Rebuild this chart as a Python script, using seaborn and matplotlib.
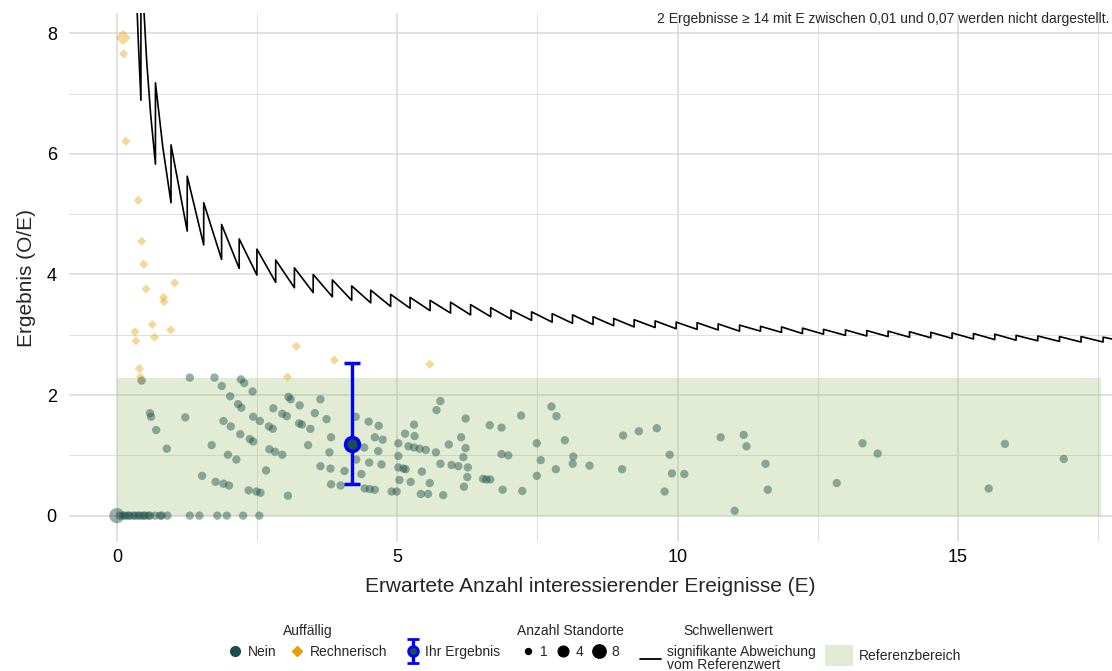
import numpy as np
import pandas as pd
import seaborn as sns
import matplotlib
matplotlib.use("Agg")
import matplotlib.pyplot as plt
from matplotlib.lines import Line2D
from matplotlib.patches import Patch
from matplotlib.legend_handler import HandlerErrorbar

# ---- data ----
# Auffaellig = Nein (circles)
nein_E = [0.0, 0.05, 0.11, 0.15, 0.20, 0.23, 0.29, 0.33, 0.38, 0.42, 0.47, 0.50, 0.56, 0.59,
          0.68, 0.77, 0.80, 0.90, 1.30, 1.47, 1.79, 1.96, 2.25, 2.54,
          0.44, 1.30, 1.74, 1.87, 2.02, 2.21, 2.27, 2.42, 0.59, 0.61, 0.70, 0.89, 1.22, 1.90,
          2.03, 2.16, 2.22, 2.43, 2.55, 2.20, 2.37, 2.43, 1.69, 1.98, 2.13, 1.52, 1.76, 1.90,
          2.00, 2.35, 2.49, 2.56, 2.66, 2.72, 2.82, 2.95, 3.05, 2.79, 2.95, 3.03, 3.06, 3.10,
          3.26, 3.63, 3.53, 3.74, 2.71, 2.78, 3.25, 3.30, 3.45, 3.41, 3.82, 3.79, 3.63, 3.81,
          4.06, 3.82, 3.99, 4.26, 4.27,
          4.49, 4.67, 4.60, 4.74, 4.41, 4.66, 4.50, 4.72, 4.36, 4.42, 4.51, 4.60, 4.90, 4.99,
          5.02, 5.14, 5.30, 5.31, 5.20, 5.30, 5.40, 5.51, 5.02, 5.02, 5.11, 5.15, 5.04, 5.24,
          5.44, 5.58, 5.42, 5.55, 5.82, 5.77, 5.70, 5.69, 5.77, 5.92, 5.97, 6.09, 6.14, 6.22,
          6.22, 6.18, 6.26, 6.25, 6.19, 6.53, 6.59, 6.66, 6.65, 6.86, 6.86, 6.98, 6.88, 7.21,
          7.23, 7.49, 7.56, 7.49, 7.75, 7.84, 7.99, 7.83, 8.14, 8.13, 8.43,
          9.03, 9.31, 9.63, 9.01, 9.86, 9.90, 10.12, 9.77, 10.77, 11.18, 11.23, 11.57, 11.61,
          11.02, 12.84, 13.30, 13.57, 15.84, 15.55, 16.89]
nein_OE = [0.0] * 24 + [
          2.24, 2.29, 2.29, 2.15, 1.98, 2.26, 2.20, 2.06, 1.70, 1.64, 1.42, 1.11, 1.63, 1.57,
          1.48, 1.85, 1.79, 1.64, 1.57, 1.35, 1.27, 1.23, 1.17, 1.01, 0.93, 0.66, 0.56, 0.53,
          0.50, 0.42, 0.40, 0.38, 0.75, 1.10, 1.06, 1.01, 0.33, 1.78, 1.69, 1.65, 1.97, 1.93,
          1.83, 1.93, 1.70, 1.60, 1.48, 1.44, 1.53, 1.51, 1.44, 1.17, 1.30, 1.05, 0.82, 0.78,
          0.74, 0.52, 0.50, 1.64, 0.93,
          1.56, 1.49, 1.30, 1.26, 1.13, 1.07, 0.88, 0.85, 0.69, 0.45, 0.44, 0.43, 0.40, 0.40,
          1.20, 1.36, 1.51, 1.32, 1.15, 1.13, 1.11, 1.09, 0.99, 0.80, 0.78, 0.77, 0.59, 0.56,
          0.73, 0.54, 0.36, 0.36, 0.34, 1.90, 1.75, 1.05, 0.86, 1.18, 0.84, 0.82, 1.30, 1.61,
          1.12, 0.97, 0.80, 0.64, 0.48, 0.61, 0.60, 0.60, 1.50, 1.46, 1.02, 1.00, 0.43, 1.66,
          0.41, 1.20, 0.92, 0.66, 1.81, 1.65, 1.25, 0.77, 0.98, 0.86, 0.83,
          1.33, 1.40, 1.45, 0.77, 1.01, 0.70, 0.69, 0.40, 1.30, 1.34, 1.15, 0.86, 0.43,
          0.08, 0.54, 1.20, 1.03, 1.19, 0.45, 0.94]
nein_n = [8] + [1] * (len(nein_E) - 1)

# Auffaellig = Rechnerisch (diamonds)
rech_E = [0.11, 0.12, 0.16, 0.38, 0.44, 0.48, 0.52, 1.03, 0.83, 0.84, 0.63, 0.32, 0.34,
          0.67, 0.96, 0.40, 0.42, 3.20, 3.04, 3.88, 5.58]
rech_OE = [7.93, 7.66, 6.21, 5.23, 4.55, 4.17, 3.76, 3.86, 3.62, 3.55, 3.17, 3.05, 2.90,
           2.96, 3.08, 2.44, 2.30, 2.81, 2.30, 2.58, 2.51]
rech_n = [2] + [1] * (len(rech_E) - 1)

# own result
own_E, own_OE, own_lo, own_hi = 4.19, 1.19, 0.52, 2.53

# threshold line (sawtooth): jump positions, value just before and just after each jump
thr_start = (0.33, 9.1)
thr_jump_E = [0.428, 0.687, 0.965, 1.254, 1.548, 1.867, 2.181, 2.497, 2.832, 3.166, 3.501,
              3.843, 4.188, 4.527, 4.883, 5.229, 5.586, 5.951, 6.308, 6.667, 7.030, 7.396,
              7.764, 8.127, 8.493, 8.861, 9.226, 9.600, 9.975, 10.349, 10.724, 11.106,
              11.480, 11.855, 12.229, 12.604, 12.996, 13.376, 13.756, 14.138, 14.518,
              14.897, 15.279, 15.659, 16.039, 16.426, 16.813, 17.198, 17.591]
thr_low = [6.89, 5.83, 5.19, 4.72, 4.49, 4.25, 4.10, 3.99, 3.87, 3.78, 3.70, 3.63, 3.57,
           3.53, 3.47, 3.44, 3.40, 3.36, 3.33, 3.30, 3.26, 3.24, 3.21, 3.19, 3.17, 3.15,
           3.13, 3.12, 3.10, 3.09, 3.08, 3.06, 3.06, 3.04, 3.02, 3.01, 2.99, 2.98, 2.97,
           2.96, 2.95, 2.94, 2.93, 2.92, 2.91, 2.90, 2.89, 2.88, 2.88]
thr_high = [9.30, 7.18, 6.15, 5.63, 5.19, 4.83, 4.59, 4.42, 4.24, 4.11, 4.00, 3.91, 3.81,
            3.74, 3.67, 3.62, 3.57, 3.54, 3.50, 3.45, 3.41, 3.38, 3.35, 3.33, 3.30, 3.27,
            3.25, 3.23, 3.21, 3.20, 3.18, 3.16, 3.14, 3.13, 3.11, 3.09, 3.08, 3.07, 3.06,
            3.05, 3.04, 3.03, 3.02, 3.01, 2.99, 2.98, 2.97, 2.97, 2.96]
thr_end = (17.75, 2.93)
# extra points where the first teeth bend
thr_bend_E = [0.38, 0.53, 0.60, 0.82]
thr_bend_y = [7.90, 7.55, 6.67, 6.10]

# reference range
ref_E = [0.0, 17.56]
ref_OE = [0.0, 2.29]

note = "2 Ergebnisse \u2265 14 mit E zwischen 0,01 und 0,07 werden nicht dargestellt."

# ---- styling ----
col_nein = "#1b4f4a"
col_rech = "#e69f00"
col_ref = "#9fc06e"
col_grid = "#d9d9d9"

sns.set_theme(style="white")
plt.rcParams["font.family"] = ["Liberation Sans", "DejaVu Sans"]

fig = plt.figure(figsize=(11.12, 6.71), dpi=100)
ax = fig.add_axes([0.0623, 0.192, 0.9377, 0.788])

nein = pd.DataFrame({"E": nein_E, "OE": nein_OE, "n": nein_n})
rech = pd.DataFrame({"E": rech_E, "OE": rech_OE, "n": rech_n})

# threshold polyline
tx = [thr_start[0]]
ty = [thr_start[1]]
for e, lo, hi in zip(thr_jump_E, thr_low, thr_high):
    tx += [e, e]
    ty += [lo, hi]
tx += [thr_end[0]] + thr_bend_E
ty += [thr_end[1]] + thr_bend_y
order = np.argsort(tx, kind="mergesort")
thr = pd.DataFrame({"E": np.array(tx)[order], "OE": np.array(ty)[order]})

ax.fill_between(ref_E, ref_OE[0], ref_OE[1], color=col_ref, alpha=0.3, lw=0, zorder=1)

sns.lineplot(data=thr, x="E", y="OE", sort=False, estimator=None, color="black",
             lw=1.2, ax=ax, zorder=3)
sns.scatterplot(data=nein, x="E", y="OE", size="n", sizes={1: 36, 8: 120}, color=col_nein,
                alpha=0.45, edgecolor="none", marker="o", legend=False, ax=ax, zorder=4)
sns.scatterplot(data=rech, x="E", y="OE", size="n", sizes={1: 22, 2: 60}, color=col_rech,
                alpha=0.4, edgecolor="none", marker="D", legend=False, ax=ax, zorder=4)

eb_kw = dict(fmt="o", color="blue", ecolor="blue", elinewidth=2.4, capthick=2.4,
             mfc=col_nein, mec="blue", zorder=6)
ax.errorbar([own_E], [own_OE], yerr=[[own_OE - own_lo], [own_hi - own_OE]],
            capsize=6, ms=10, mew=2.5, **eb_kw)
# proxy for the legend key (smaller marker)
eb_key = ax.errorbar([np.nan], [np.nan], yerr=[1.0], capsize=4, ms=7, mew=2, **eb_kw)

ax.set_xlim(-0.85, 17.75)
ax.set_ylim(-0.44, 8.33)
ax.set_xticks([0, 5, 10, 15])
ax.set_xticks([2.5, 7.5, 12.5, 17.5], minor=True)
ax.set_yticks([0, 2, 4, 6, 8])
ax.set_yticks([1, 3, 5, 7], minor=True)
ax.set_axisbelow(True)
ax.grid(which="major", color=col_grid, lw=1.1)
ax.grid(which="minor", color=col_grid, lw=0.6)
for s in ax.spines.values():
    s.set_visible(False)
ax.tick_params(axis="both", which="both", length=0, labelsize=13, colors="black")
ax.tick_params(axis="y", pad=9)
ax.tick_params(axis="x", pad=5)
ax.set_xlabel("Erwartete Anzahl interessierender Ereignisse (E)", fontsize=15, labelpad=8)
ax.set_ylabel("Ergebnis (O/E)", fontsize=15, labelpad=8)

fig.text(0.998, 1 - 19 / 671, note, ha="right", va="center", fontsize=10)

# ---- legends below the plot ----
leg_kw = dict(frameon=False, fontsize=10, title_fontsize=10, loc="upper center",
              handletextpad=0.4, borderpad=0, borderaxespad=0)
ytop = 1 - 624 / 671

h_auff = [Line2D([], [], ls="", marker="o", ms=7, color=col_nein),
          Line2D([], [], ls="", marker="D", ms=5, color=col_rech)]
l1 = fig.legend(h_auff, ["Nein", "Rechnerisch"], title="Auff\u00e4llig", ncol=2,
                bbox_to_anchor=(308 / 1112, ytop), handlelength=1, columnspacing=1.0, **leg_kw)
l2 = fig.legend([eb_key], ["Ihr Ergebnis"], title=" ", bbox_to_anchor=(453 / 1112, ytop),
                handlelength=1, handler_map={eb_key: HandlerErrorbar(yerr_size=0.85)},
                **leg_kw)
h_size = [Line2D([], [], ls="", marker="o", ms=m, color="black") for m in (4.3, 7.7, 9.6)]
l3 = fig.legend(h_size, ["1", "4", "8"], title="Anzahl Standorte", ncol=3,
                bbox_to_anchor=(570 / 1112, ytop), handlelength=1, columnspacing=0.6, **leg_kw)
l4 = fig.legend([Line2D([], [], color="black", lw=1.3)],
                ["signifikante Abweichung\nvom Referenzwert"], title="Schwellenwert",
                bbox_to_anchor=(728 / 1112, ytop), handlelength=1.5, **leg_kw)
l4.get_texts()[0].set_linespacing(0.9)
l5 = fig.legend([Patch(facecolor=col_ref, alpha=0.3, lw=0)], ["Referenzbereich"], title=" ",
                bbox_to_anchor=(893 / 1112, ytop), handlelength=2, handleheight=2, **leg_kw)

fig.savefig("out.png", dpi=100)
